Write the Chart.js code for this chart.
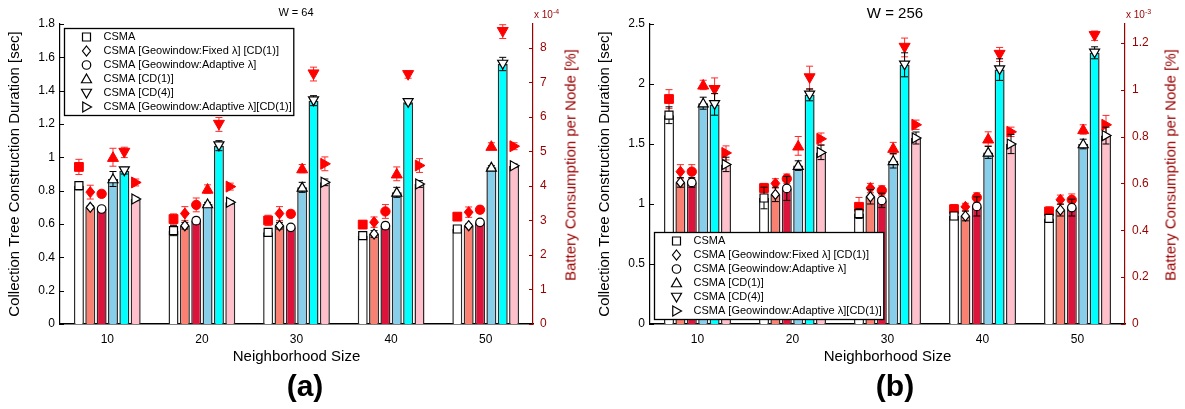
<!DOCTYPE html>
<html lang="en">
  <head>
    <meta charset="UTF-8" />
    <title>Collection tree duration and battery consumption</title>
    <script src="https://cdn.jsdelivr.net/npm/chart.js"></script>
    <style>
      body {
        margin: 0;
        background: #fff;
        font-family: Arial, "Liberation Sans", sans-serif;
      }
      #wrap {
        position: relative;
        width: 1185px;
        height: 409px;
      }
      canvas {
        position: absolute;
        top: 0;
      }
      .txt {
        position: absolute;
        white-space: nowrap;
        transform: translate(-50%, -50%);
        color: #000;
      }
      .red {
        color: #990000;
      }
      .rot {
        transform: translate(-50%, -50%) rotate(-90deg);
        font-size: 15px;
      }
      .exp {
        position: absolute;
        font-size: 10px;
        color: #990000;
        white-space: nowrap;
      }
      .exp sup {
        font-size: 7px;
      }
      .panel {
        font-size: 30px;
        font-weight: bold;
      }
    </style>
  </head>
  <body>
    <div id="wrap">
      <canvas id="chartA" width="590" height="409" style="left: 0"></canvas>
      <canvas id="chartB" width="595" height="409" style="left: 590px"></canvas>

      <div class="txt" style="left: 296px; top: 12px; font-size: 11px">W = 64</div>
      <div class="txt" style="left: 895px; top: 12px; font-size: 15px">W = 256</div>
      <div class="exp" style="left: 534px; top: 8px">x 10<sup>-4</sup></div>
      <div class="exp" style="left: 1126px; top: 8px">x 10<sup>-3</sup></div>
      <div class="txt rot red" style="left: 570px; top: 165px">Battery Consumption per Node [%]</div>
      <div class="txt rot red" style="left: 1170px; top: 165px">Battery Consumption per Node [%]</div>
      <div class="txt panel" style="left: 305px; top: 386px">(a)</div>
      <div class="txt panel" style="left: 895px; top: 386px">(b)</div>
    </div>

    <script>
      const categories = ["10", "20", "30", "40", "50"];
      const seriesNames = [
        "CSMA",
        "CSMA [Geowindow:Fixed \u03bb] [CD(1)]",
        "CSMA [Geowindow:Adaptive \u03bb]",
        "CSMA [CD(1)]",
        "CSMA [CD(4)]",
        "CSMA [Geowindow:Adaptive \u03bb][CD(1)]",
      ];
      const barColors = ["#ffffff", "#fa8072", "#dc143c", "#87ceeb", "#00ffff", "#ffc0cb"];
      const markerStyles = ["square", "diamond", "circle", "triangleUp", "triangleDown", "triangleRight"];

      // W = 64 : duration [sec], one row per series (10..50)
      const durationW64 = [
        [0.83, 0.56, 0.55, 0.53, 0.57],
        [0.7, 0.59, 0.59, 0.54, 0.59],
        [0.69, 0.62, 0.58, 0.59, 0.61],
        [0.87, 0.72, 0.82, 0.79, 0.94],
        [0.92, 1.07, 1.34, 1.33, 1.56],
        [0.75, 0.73, 0.85, 0.84, 0.95],
      ];
      const durationErrW64 = [
        [0.025, 0.03, 0.02, 0.01, 0.01],
        [0.01, 0.02, 0.02, 0.02, 0.01],
        [0.01, 0.02, 0.01, 0.02, 0.01],
        [0.045, 0.01, 0.03, 0.03, 0.01],
        [0.02, 0.03, 0.03, 0.01, 0.04],
        [0.01, 0.01, 0.02, 0.02, 0.01],
      ];
      // W = 64 : battery [x 1e-4 %]
      const batteryW64 = [
        [4.55, 3.04, 3.0, 2.88, 3.11],
        [3.82, 3.2, 3.2, 2.95, 3.24],
        [3.77, 3.45, 3.19, 3.26, 3.31],
        [4.83, 3.91, 4.5, 4.35, 5.15],
        [4.97, 5.78, 7.24, 7.22, 8.47],
        [4.1, 3.98, 4.64, 4.59, 5.15],
      ];
      const batteryErrW64 = [
        [0.22, 0.15, 0.15, 0.1, 0.1],
        [0.2, 0.2, 0.2, 0.15, 0.15],
        [0.1, 0.2, 0.1, 0.2, 0.1],
        [0.26, 0.12, 0.12, 0.2, 0.1],
        [0.15, 0.2, 0.2, 0.1, 0.2],
        [0.1, 0.1, 0.2, 0.2, 0.1],
      ];

      // W = 256 : duration [sec]
      const durationW256 = [
        [1.74, 1.05, 0.92, 0.9, 0.88],
        [1.18, 1.08, 1.06, 0.9, 0.95],
        [1.18, 1.13, 1.03, 0.98, 0.97],
        [1.84, 1.32, 1.36, 1.43, 1.5],
        [1.83, 1.91, 2.16, 2.12, 2.26],
        [1.33, 1.43, 1.55, 1.5, 1.57],
      ];
      const durationErrW256 = [
        [0.07, 0.09, 0.04, 0.03, 0.03],
        [0.04, 0.06, 0.06, 0.04, 0.05],
        [0.04, 0.1, 0.06, 0.08, 0.07],
        [0.05, 0.04, 0.06, 0.05, 0.04],
        [0.09, 0.05, 0.1, 0.09, 0.05],
        [0.06, 0.06, 0.05, 0.08, 0.07],
      ];
      // W = 256 : battery [x 1e-3 %]
      const batteryW256 = [
        [0.96, 0.58, 0.5, 0.49, 0.48],
        [0.65, 0.6, 0.58, 0.5, 0.53],
        [0.65, 0.62, 0.57, 0.54, 0.53],
        [1.02, 0.76, 0.75, 0.79, 0.83],
        [1.0, 1.05, 1.18, 1.15, 1.23],
        [0.73, 0.79, 0.85, 0.82, 0.85],
      ];
      const batteryErrW256 = [
        [0.04, 0.02, 0.04, 0.02, 0.02],
        [0.03, 0.02, 0.02, 0.015, 0.02],
        [0.03, 0.02, 0.02, 0.02, 0.025],
        [0.02, 0.04, 0.025, 0.03, 0.02],
        [0.05, 0.05, 0.04, 0.03, 0.02],
        [0.03, 0.025, 0.02, 0.02, 0.04],
      ];

      const darkRed = "#990000";
      Chart.defaults.font.family = 'Arial, "Liberation Sans", sans-serif';

      const fmt = (v) => String(Math.round(v * 1000) / 1000);

      function drawMarker(ctx, style, x, y, r) {
        ctx.beginPath();
        switch (style) {
          case "square":
            ctx.rect(x - r * 0.8, y - r * 0.8, r * 1.6, r * 1.6);
            break;
          case "diamond":
            ctx.moveTo(x, y - r);
            ctx.lineTo(x + r * 0.8, y);
            ctx.lineTo(x, y + r);
            ctx.lineTo(x - r * 0.8, y);
            ctx.closePath();
            break;
          case "circle":
            ctx.arc(x, y, r * 0.85, 0, Math.PI * 2);
            break;
          case "triangleUp":
            ctx.moveTo(x, y - r);
            ctx.lineTo(x + r, y + r * 0.75);
            ctx.lineTo(x - r, y + r * 0.75);
            ctx.closePath();
            break;
          case "triangleDown":
            ctx.moveTo(x, y + r);
            ctx.lineTo(x + r, y - r * 0.75);
            ctx.lineTo(x - r, y - r * 0.75);
            ctx.closePath();
            break;
          case "triangleRight":
            ctx.moveTo(x + r, y);
            ctx.lineTo(x - r * 0.75, y - r);
            ctx.lineTo(x - r * 0.75, y + r);
            ctx.closePath();
            break;
        }
        ctx.fill();
        ctx.stroke();
      }

      function errorBar(ctx, x, yLow, yHigh, color) {
        ctx.strokeStyle = color;
        ctx.lineWidth = 1;
        ctx.beginPath();
        ctx.moveTo(x, yLow);
        ctx.lineTo(x, yHigh);
        ctx.moveTo(x - 3.5, yLow);
        ctx.lineTo(x + 3.5, yLow);
        ctx.moveTo(x - 3.5, yHigh);
        ctx.lineTo(x + 3.5, yHigh);
        ctx.stroke();
      }

      const overlayPlugin = {
        id: "overlay",
        afterDatasetsDraw(chart, args, opts) {
          const ctx = chart.ctx;
          const y = chart.scales.y;
          const y2 = chart.scales.y2;
          ctx.save();

          // battery (right axis): red error bars and filled markers
          opts.battery.forEach((vals, i) => {
            const meta = chart.getDatasetMeta(i);
            vals.forEach((v, j) => {
              const x = meta.data[j].x;
              const e = opts.batteryErr[i][j];
              errorBar(ctx, x, y2.getPixelForValue(v - e), y2.getPixelForValue(v + e), "#ff2a2a");
              ctx.fillStyle = "#ff0000";
              ctx.strokeStyle = "#ff0000";
              ctx.lineWidth = 1;
              drawMarker(ctx, markerStyles[i], x, y2.getPixelForValue(v), 5.5);
            });
          });

          // duration (left axis): black error bars and hollow markers on bar tops
          opts.durationErr.forEach((errs, i) => {
            const meta = chart.getDatasetMeta(i);
            errs.forEach((e, j) => {
              const v = chart.data.datasets[i].data[j];
              const bar = meta.data[j];
              errorBar(ctx, bar.x, y.getPixelForValue(v - e), y.getPixelForValue(v + e), "#000");
              ctx.fillStyle = "#fff";
              ctx.strokeStyle = "#000";
              ctx.lineWidth = 1.2;
              drawMarker(ctx, markerStyles[i], bar.x, bar.y, 5);
            });
          });
          ctx.restore();
        },
        afterDraw(chart, args, opts) {
          const ctx = chart.ctx;
          const area = chart.chartArea;
          ctx.save();

          // inward tick marks
          ctx.lineWidth = 1;
          ctx.strokeStyle = "#000";
          chart.scales.y.ticks.forEach((t) => {
            const py = Math.round(chart.scales.y.getPixelForValue(t.value)) + 0.5;
            ctx.beginPath();
            ctx.moveTo(area.left, py);
            ctx.lineTo(area.left + 4, py);
            ctx.stroke();
          });
          ctx.strokeStyle = darkRed;
          chart.scales.y2.ticks.forEach((t) => {
            const py = Math.round(chart.scales.y2.getPixelForValue(t.value)) + 0.5;
            ctx.beginPath();
            ctx.moveTo(area.right, py);
            ctx.lineTo(area.right - 4, py);
            ctx.stroke();
          });

          // legend box
          ctx.font = '11px Arial, "Liberation Sans", sans-serif';
          const textW = Math.max(...seriesNames.map((n) => ctx.measureText(n).width));
          const rowH = 14;
          const w = 39 + textW + 2;
          const h = rowH * 6 + 3;
          const left = area.left + 4.5;
          const top = opts.legendAt === "top" ? area.top + 4.5 : area.bottom - 4.5 - h;
          ctx.fillStyle = "#fff";
          ctx.fillRect(left, top, w, h);
          ctx.strokeStyle = "#000";
          ctx.lineWidth = 1.3;
          ctx.strokeRect(left, top, w, h);
          seriesNames.forEach((name, i) => {
            const cy = top + 8.5 + i * rowH;
            ctx.fillStyle = "#fff";
            ctx.strokeStyle = "#000";
            ctx.lineWidth = 1.2;
            drawMarker(ctx, markerStyles[i], left + 22, cy, 5);
            ctx.fillStyle = "#000";
            ctx.textBaseline = "middle";
            ctx.textAlign = "left";
            ctx.fillText(name, left + 39, cy);
          });
          ctx.restore();
        },
      };

      function makeChart(id, cfg) {
        return new Chart(document.getElementById(id), {
          type: "bar",
          data: {
            labels: categories,
            datasets: seriesNames.map((name, i) => ({
              label: name,
              data: cfg.duration[i],
              yAxisID: "y",
              backgroundColor: barColors[i],
              borderColor: "#2b2b2b",
              borderWidth: 1.5,
              categoryPercentage: 0.72,
              barPercentage: 0.88,
            })),
          },
          options: {
            responsive: false,
            animation: false,
            layout: { padding: { top: 24, left: 0, right: 0, bottom: 0 } },
            plugins: {
              legend: { display: false },
              tooltip: { enabled: false },
              overlay: {
                battery: cfg.battery,
                batteryErr: cfg.batteryErr,
                durationErr: cfg.durationErr,
                legendAt: cfg.legendAt,
              },
            },
            scales: {
              x: {
                grid: { display: false, drawTicks: false },
                border: { color: "#000", width: 1.5 },
                ticks: { padding: 8, color: "#000", font: { size: 12 } },
                title: {
                  display: true,
                  text: "Neighborhood Size",
                  color: "#000",
                  font: { size: 15 },
                  padding: { top: 0, bottom: 43 },
                },
                afterFit: (s) => {
                  s.height = 85;
                },
              },
              y: {
                position: "left",
                min: 0,
                max: cfg.yMax,
                grid: { display: false, drawTicks: false },
                border: { color: "#000", width: 1.2 },
                ticks: { stepSize: cfg.yStep, padding: 5, color: "#000", font: { size: 12 }, callback: fmt },
                title: {
                  display: true,
                  text: "Collection Tree Construction Duration [sec]",
                  color: "#000",
                  font: { size: 15 },
                  padding: { top: 6 },
                },
                afterFit: (s) => {
                  s.width = 60;
                },
              },
              y2: {
                position: "right",
                min: 0,
                max: cfg.y2Max,
                grid: { display: false, drawTicks: false },
                border: { color: darkRed, width: 1.2 },
                ticks: {
                  stepSize: cfg.y2Step,
                  includeBounds: false,
                  padding: 7,
                  color: darkRed,
                  font: { size: 12 },
                  callback: fmt,
                },
                afterFit: (s) => {
                  s.width = cfg.rightWidth;
                },
              },
            },
          },
          plugins: [overlayPlugin],
        });
      }

      makeChart("chartA", {
        duration: durationW64,
        durationErr: durationErrW64,
        battery: batteryW64,
        batteryErr: batteryErrW64,
        yMax: 1.8,
        yStep: 0.2,
        y2Max: 8.69,
        y2Step: 1,
        rightWidth: 57,
        legendAt: "top",
      });

      makeChart("chartB", {
        duration: durationW256,
        durationErr: durationErrW256,
        battery: batteryW256,
        batteryErr: batteryErrW256,
        yMax: 2.5,
        yStep: 0.5,
        y2Max: 1.28,
        y2Step: 0.2,
        rightWidth: 60,
        legendAt: "bottom",
      });
    </script>
  </body>
</html>
